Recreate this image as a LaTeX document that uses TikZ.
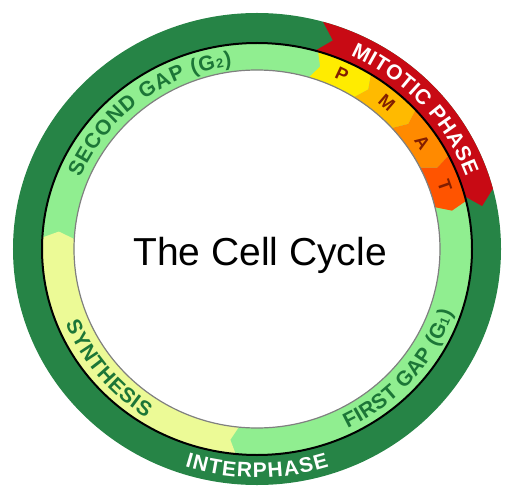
\documentclass[tikz,border=0pt]{standalone}
\usepackage{fontspec}
\setmainfont{Liberation Sans}
\usetikzlibrary{decorations.text}
\definecolor{dkgreen}{RGB}{38,132,70}
\definecolor{ltgreen}{RGB}{144,238,144}
\definecolor{synyel}{RGB}{236,250,150}
\definecolor{pyel}{RGB}{255,236,0}
\definecolor{morange}{RGB}{255,186,0}
\definecolor{aorange}{RGB}{255,138,0}
\definecolor{torange}{RGB}{255,84,0}
\definecolor{mitred}{RGB}{200,10,20}
\definecolor{txtgreen}{RGB}{28,118,55}
\definecolor{letred}{RGB}{130,30,0}
\newcommand\gtxt{\fontsize{21}{21}\selectfont\bfseries\color{txtgreen}}
\newcommand\gsubs{\fontsize{13}{13}\selectfont\bfseries\color{txtgreen}}
\newcommand\wtxt{\fontsize{21}{21}\selectfont\bfseries\color{white}}
\newcommand\ringseg[8]{%
  \pgfmathsetmacro\rsA{#2+#8}\pgfmathsetmacro\rsB{#3+#8}%
  \pgfmathsetmacro\rsC{#3-#8}\pgfmathsetmacro\rsD{#2-#8}%
  \pgfmathsetmacro\rsX{(#4+#6)/2}\pgfmathsetmacro\rsY{(#5+#7)/2}%
  \fill[#1] ({\rsA}:{#6} and {#7}) arc[start angle=\rsA, end angle=\rsB, x radius=#6, y radius=#7]
    -- ({\rsC}:{\rsX} and {\rsY}) -- ({\rsB}:{#4} and {#5})
    arc[start angle=\rsB, end angle=\rsA, x radius=#4, y radius=#5]
    -- ({\rsD}:{\rsX} and {\rsY}) -- cycle;}
\tikzset{
  pmat/.style={font=\fontsize{18}{18}\selectfont\bfseries, text=letred, inner sep=0pt},
  arctext/.style={decorate, decoration={text along path, text align={fit to path}, text={#1}}}
}
\begin{document}
\begin{tikzpicture}[x=1pt,y=1pt]
\useasboundingbox (-257,-238) rectangle (248,249);
% outer dark ring
\fill[dkgreen, even odd rule] (0,0) ellipse[x radius=244, y radius=236] (0,0) ellipse[x radius=215, y radius=206];
\ringseg{mitred}{72.5}{13}{215}{206}{244}{236}{1.8}
% inner light ring
\fill[ltgreen, even odd rule] (0,0) ellipse[x radius=215, y radius=206] (0,0) ellipse[x radius=183, y radius=179];
\ringseg{synyel}{263.3}{175.8}{183}{179}{215}{206}{1}
\ringseg{pyel}{72.5}{57}{183}{179}{215}{206}{1}
\ringseg{morange}{57}{41.5}{183}{179}{215}{206}{1}
\ringseg{aorange}{41.5}{26}{183}{179}{215}{206}{1}
\ringseg{torange}{26}{12.5}{183}{179}{215}{206}{1}
% lines
\draw[line width=2pt, black] (0,0) ellipse[x radius=215, y radius=206];
\draw[line width=1.2pt, gray] (0,0) ellipse[x radius=183, y radius=179];
% arc texts
\path[arctext={|\gtxt|SECOND GAP (G|\gsubs|2|\gtxt|)}]
  (157.3:191.5 and 185) arc[start angle=157.3, end angle=97.5, x radius=191.5, y radius=185];
\path[arctext={|\gtxt|SYNTHESIS}]
  (202:206.5 and 200) arc[start angle=202, end angle=237.5, x radius=206.5, y radius=200];
\path[arctext={|\gtxt|FIRST GAP (G|\gsubs|1|\gtxt|)}]
  (-64:206.5 and 200) arc[start angle=-64, end angle=-18.5, x radius=206.5, y radius=200];
\path[arctext={|\wtxt|INTERPHASE}]
  (252.3:237 and 228.5) arc[start angle=252.3, end angle=287.7, x radius=237, y radius=228.5];
\path[arctext={|\wtxt|MITOTIC PHASE}]
  (65.1:222 and 213.5) arc[start angle=65.1, end angle=19.9, x radius=222, y radius=213.5];
% phase letters
\node[pmat, rotate=-25.25] (P) at (64.75:199 and 192.5) {P};
\node[pmat, rotate=-40.75] (M) at (49.25:199 and 192.5) {M};
\node[pmat, rotate=-56.25] (A) at (33.75:199 and 192.5) {A};
\node[pmat, rotate=-70.75] (T) at (19.25:199 and 192.5) {T};
% title
\node[font=\fontsize{39}{39}\selectfont, anchor=base, inner sep=0pt] (title) at (3,-16) {The Cell Cycle};
\end{tikzpicture}
\end{document}
